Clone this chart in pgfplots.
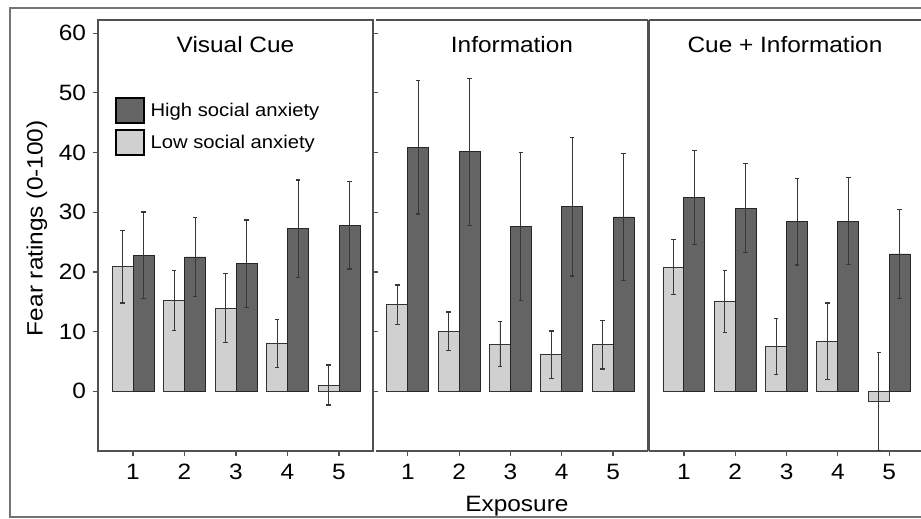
\documentclass[border=0pt]{standalone}
\usepackage{pgfplots}
\pgfplotsset{compat=1.18}
\usepackage{pgfplotstable}
\usepackage{fontspec}
\setmainfont{Liberation Sans}[FakeStretch=1.1]
\definecolor{lowc}{HTML}{D0D0D0}
\definecolor{highc}{HTML}{646464}
\definecolor{framec}{HTML}{505050}

% x = exposure position of the bar centre, y = mean, e = error
\pgfplotstableread{
x y e
0.796 20.9 6.1
1.796 15.2 5.0
2.796 13.95 5.8
3.796 8.0 4.05
4.796 1.05 3.35
}\pOneLow
\pgfplotstableread{
x y e
1.204 22.8 7.25
2.204 22.5 6.6
3.204 21.4 7.3
4.204 27.2 8.2
5.204 27.8 7.3
}\pOneHigh
\pgfplotstableread{
x y e
0.796 14.5 3.3
1.796 10.1 3.2
2.796 7.9 3.75
3.796 6.1 4.0
4.796 7.8 4.05
}\pTwoLow
\pgfplotstableread{
x y e
1.204 40.9 11.2
2.204 40.1 12.3
3.204 27.6 12.4
4.204 30.9 11.6
5.204 29.2 10.7
}\pTwoHigh
\pgfplotstableread{
x y e
0.796 20.8 4.6
1.796 15.0 5.2
2.796 7.5 4.75
3.796 8.4 6.4
4.796 -1.7 8.2
}\pThreeLow
\pgfplotstableread{
x y e
1.204 32.5 7.9
2.204 30.7 7.4
3.204 28.4 7.25
4.204 28.5 7.3
5.204 23.0 7.45
}\pThreeHigh

\newcommand{\fs}{\fontsize{11.1}{13.3}\selectfont}
\newcommand{\fl}{\fontsize{9.2}{11}\selectfont}

\pgfplotsset{
  panel/.style={
    scale only axis, anchor=south west,
    height=215.5pt,
    ymin=-10, ymax=62.2,
    ybar, bar width=0.408, bar shift=0pt,
    xtick={1,2,3,4,5},
    tick align=outside, major tick length=2.5pt,
    tick style={framec, line width=0.6pt},
    axis line style={framec, line width=0.6pt},
    xtick pos=bottom,
    /pgf/number format/assume math mode=true,
    tick label style={font=\fs, black},
    xticklabel style={yshift=-0.6pt},
    title style={font=\fs, at={(0.5,0.914)}, anchor=center},
    label style={font=\fs},
    error bars/y dir=both, error bars/y explicit,
    error bars/error bar style={black!78, line width=0.45pt},
    error bars/error mark options={rotate=90, mark size=1.1pt, black!78, line width=0.6pt},
  },
  lowbar/.style={fill=lowc, draw=black!80, line width=0.45pt},
  highbar/.style={fill=highc, draw=black!85, line width=0.45pt},
  mylegend/.style={legend image code/.code={\draw[##1, draw=black, line width=1pt] (0pt,-6pt) rectangle (14pt,6.5pt);}},
}

\begin{document}
\begin{tikzpicture}[font=\fs]
\useasboundingbox (0,0) rectangle (460.5pt,259.5pt);
\fill[white] (0,0) rectangle (460.5pt,259.5pt);
\draw[black!55, line width=0.8pt] (462pt,255.5pt) -- (5pt,255.5pt) -- (5pt,1pt) -- (462pt,1pt);

% Panel 1: Visual Cue
\begin{axis}[panel, at={(49pt,34pt)}, width=137.5pt,
  xmin=0.32, xmax=5.66,
  ytick={0,10,20,30,40,50,60},
  title={Visual Cue},
  ylabel={Fear ratings (0-100)},
  every axis y label/.style={at={(axis description cs:-0.222,0.517)}, rotate=90, anchor=center},
  legend style={at={(0.061,0.822)}, anchor=north west, draw=none, fill=none,
    row sep=2.6pt, inner sep=0pt, font=\fl, nodes={inner sep=1.5pt},
    /tikz/column 2/.style={column sep=0pt}},
  legend cell align=left,
]
\addlegendimage{mylegend, fill=highc}
\addlegendentry{\hspace{1.2pt}High social anxiety}
\addlegendimage{mylegend, fill=lowc}
\addlegendentry{\hspace{1.2pt}Low social anxiety}
\addplot[lowbar, forget plot] table[x=x, y=y, y error=e] {\pOneLow};
\addplot[highbar, forget plot] table[x=x, y=y, y error=e] {\pOneHigh};
\end{axis}

% Panel 2: Information
\begin{axis}[panel, at={(188pt,34pt)}, width=136pt,
  xmin=0.38, xmax=5.68,
  axis x line*=box, axis y line*=right,
  ytick=\empty,
  title={Information},
  xlabel={Exposure},
  xlabel style={at={(axis description cs:0.518,-0.127)}, anchor=center},
]
\addplot[lowbar] table[x=x, y=y, y error=e] {\pTwoLow};
\addplot[highbar] table[x=x, y=y, y error=e] {\pTwoHigh};
\end{axis}

% Panel 3: Cue + Information
\begin{axis}[panel, at={(324.5pt,34pt)}, width=136pt,
  xmin=0.32, xmax=5.62,
  axis x line*=box, axis y line*=none,
  ytick=\empty,
  title={Cue + Information},
]
\addplot[lowbar] table[x=x, y=y, y error=e] {\pThreeLow};
\addplot[highbar] table[x=x, y=y, y error=e] {\pThreeHigh};
\end{axis}
\end{tikzpicture}
\end{document}
